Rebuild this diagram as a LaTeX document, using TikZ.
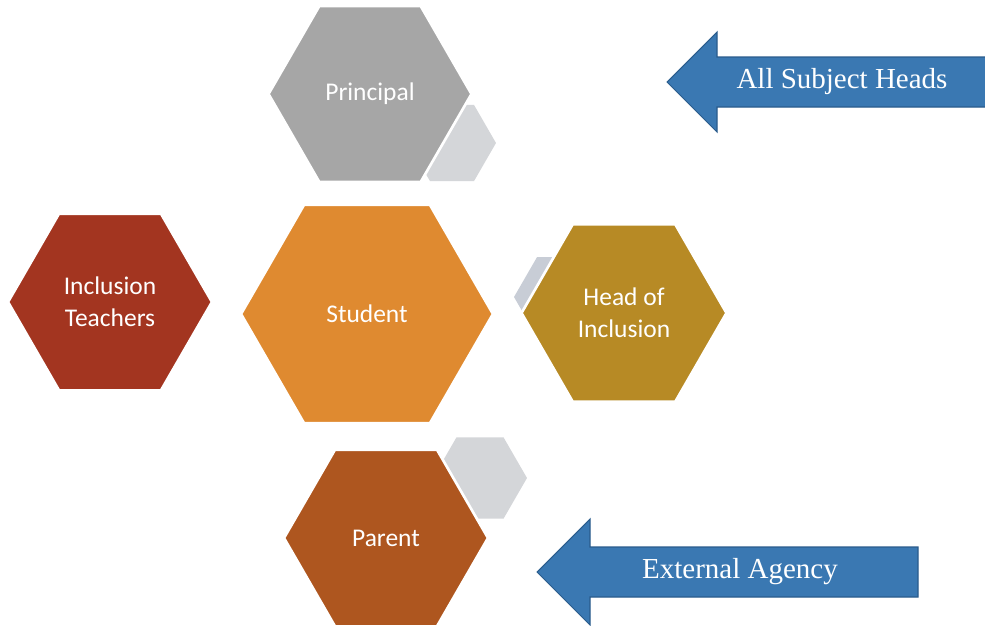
\documentclass[tikz,border=0pt]{standalone}
\usepackage{fontspec}
\setmainfont{Carlito}
\newfontfamily\arrowfont{Liberation Serif}
\usetikzlibrary{shapes.geometric}
\definecolor{hexgray}{HTML}{A6A6A6}
\definecolor{hexred}{HTML}{A33520}
\definecolor{hexorange}{HTML}{DF8A30}
\definecolor{hexgold}{HTML}{B78A25}
\definecolor{hexrust}{HTML}{AE561F}
\definecolor{shadegray}{HTML}{D4D6D9}
\definecolor{shadeblue}{HTML}{C8CDD6}
\definecolor{arrowblue}{HTML}{3A78B2}
\definecolor{arrowedge}{HTML}{2A5C8C}
\tikzset{
  hex/.style        = {regular polygon, regular polygon sides=6,
                       draw=white, line width=1.5pt, inner sep=0pt,
                       text=white, align=center,
                       font=\fontsize{14.5}{18}\selectfont},
  shade hex/.style  = {regular polygon, regular polygon sides=6,
                       fill=shadegray, draw=none, inner sep=0pt},
  arrow body/.style = {fill=arrowblue, draw=arrowedge, line width=0.6pt},
  arrow text/.style = {text=white, font=\arrowfont\fontsize{16.5}{20}\selectfont},
}
% #1 tip x, #2 tip y, #3 head size, #4 shaft end x
\def\blockarrow(#1,#2)<#3>#4;{
  \draw[arrow body] (#1,#2) -- (#1+#3,#2-#3) -- (#1+#3,#2-25) -- (#4,#2-25)
    -- (#4,#2+25) -- (#1+#3,#2+25) -- (#1+#3,#2+#3) -- cycle; }
\begin{document}
\begin{tikzpicture}[x=0.02cm, y=-0.02cm]
  \fill[white] (0,0) rectangle (985,626);
  \useasboundingbox (0,0) rectangle (985,626);

  % small hexagons behind
  \node[shade hex, minimum size=1.76cm] (principal shade) at (452,143) {};
  \node[shade hex, minimum size=1.84cm, fill=shadeblue] (hoi shade) at (560,297) {};
  \node[shade hex, minimum size=1.88cm] (parent shade) at (480,478) {};

  % main hexagons
  \node[hex, fill=hexgray,   minimum size=4.06cm] (principal) at (370,94)  {Principal};
  \node[hex, fill=hexred,    minimum size=4.08cm] (teachers)  at (110,302) {Inclusion\\Teachers};
  \node[hex, fill=hexorange, minimum size=5.04cm] (student)   at (367,314) {Student};
  \node[hex, fill=hexgold,   minimum size=4.10cm] (hoi)       at (624,313) {Head of\\Inclusion};
  \node[hex, fill=hexrust,   minimum size=4.08cm] (parent)    at (386,538) {Parent};

  % arrows
  \blockarrow(667,82)<50>1000;
  \node[arrow text] (subject heads) at (842,82) {All Subject Heads};
  \blockarrow(537,572)<53>918;
  \node[arrow text] (agency) at (740,572) {External Agency};
\end{tikzpicture}
\end{document}
